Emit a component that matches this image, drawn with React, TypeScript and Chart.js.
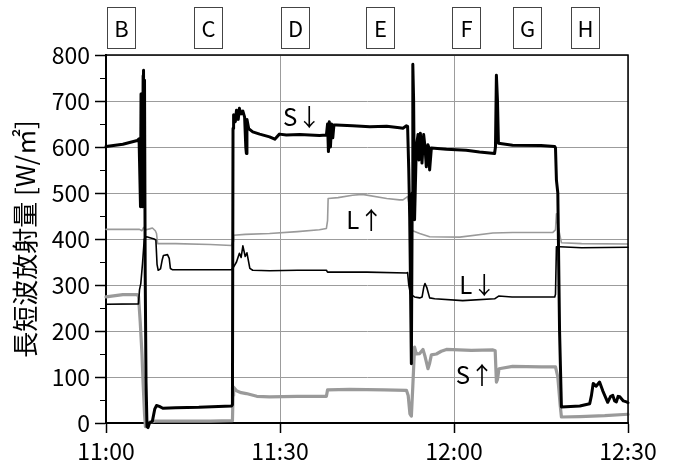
import { useEffect, useRef } from "react";
import { Chart, registerables } from "chart.js";

Chart.register(...registerables);

const FONT = '"Noto Sans CJK JP", "Noto Sans", sans-serif';
const BLACK = "#000000";
const GRAY = "#9a9a9a";
const GRID = "#9c9c9c";

// Time axis: minutes after 11:00
const timeMin = 0;
const timeMax = 90;
const timeStep = 30;

// S↓ : downward shortwave
const sDownTime = [0, 2.9, 5.4, 5.7, 5.95, 6.04, 6.12, 6.21, 6.3, 6.4, 6.47, 6.56, 6.64, 6.76, 6.9, 7.07, 7.25, 7.5, 8.0, 8.4, 8.7, 9.2, 9.8, 12, 16, 21.65, 21.8, 21.9, 22.0, 22.3, 22.5, 22.8, 23.0, 23.3, 23.6, 23.9, 24.1, 24.2, 24.3, 24.6, 25.3, 26.5, 28.2, 29.1, 29.9, 31.1, 33.4, 36.8, 38.0, 38.2, 38.35, 38.5, 38.7, 38.9, 39.1, 39.3, 39.7, 42.5, 45.5, 48.4, 50.6, 51.2, 51.8, 52.0, 52.2, 52.36, 52.5, 52.65, 52.8, 52.9, 53.04, 53.2, 53.5, 53.8, 53.96, 54.08, 54.2, 54.48, 54.77, 55.0, 55.23, 55.5, 55.63, 55.8, 56.1, 58.7, 62.1, 64.4, 67.0, 67.15, 67.31, 67.5, 67.66, 70.1, 75, 77.37, 77.5, 77.66, 77.9, 78.2, 78.52, 81.7, 83.4, 83.7, 84.0, 84.5, 85.1, 85.65, 86.5, 87.0, 87.38, 87.7, 88.0, 88.3, 88.58, 89.2, 89.74, 90];
const sDownValue = [601, 606, 614, 618, 470, 715, 480, 712, 470, 755, 767, 520, 745, 320, 90, -8, -10, 0, 4, 30, 38, 36, 32, 33, 34, 37, 40, 640, 670, 655, 680, 660, 684, 672, 678, 665, 600, 586, 660, 640, 633, 628, 622, 617, 628, 626, 627, 625, 626, 650, 590, 655, 600, 650, 620, 648, 648, 646, 644, 645, 642, 641, 646, 645, 550, 448, 300, 129, 500, 780, 700, 442, 600, 627, 572, 612, 630, 565, 627, 600, 557, 605, 600, 550, 598, 595, 593, 589, 586, 600, 756, 700, 608, 604, 603, 601, 598, 528, 500, 200, 35, 37, 42, 60, 86, 80, 89, 70, 45, 58, 60, 48, 46, 58, 57, 48, 46, 44];

// L↓ : downward longwave
const lDownTime = [0, 5.6, 5.78, 6.0, 6.3, 6.6, 7.0, 8.3, 8.6, 8.8, 9.0, 9.4, 9.7, 9.9, 10.6, 10.9, 11.1, 11.5, 14, 21.65, 21.99, 22.5, 23.0, 23.3, 23.6, 24.0, 24.3, 24.8, 25.3, 28.2, 33, 38.0, 38.2, 45, 51.84, 52.0, 52.2, 52.5, 53.2, 54.08, 54.5, 54.8, 55.0, 55.3, 55.8, 56.67, 61.5, 67.0, 67.7, 70, 77.37, 77.5, 77.66, 78.2, 82, 90];
const lDownValue = [258, 259, 290, 303, 347, 400, 405, 400, 398, 345, 332, 335, 355, 364, 366, 358, 336, 333, 333, 333, 339, 350, 369, 360, 385, 362, 370, 336, 332, 331, 332, 332, 328, 328, 326, 327, 300, 280, 274, 272, 274, 296, 303, 295, 272, 270, 266, 270, 276, 274, 274, 280, 383, 383, 381, 382];

// S↑ : upward (reflected) shortwave
const sUpTime = [0, 2.9, 5.4, 5.61, 5.9, 6.2, 6.4, 6.64, 6.8, 7.1, 7.5, 8.5, 12, 18, 21.8, 21.9, 22.0, 22.5, 23.3, 24.2, 26, 28.2, 33, 38.0, 38.2, 42, 48, 51.8, 52.1, 52.4, 52.65, 52.9, 53.2, 53.5, 54.08, 54.65, 55.0, 55.51, 55.8, 56.1, 56.96, 57.8, 58.7, 63, 66.72, 67.1, 67.31, 67.5, 67.76, 70.1, 75, 77.02, 77.5, 77.9, 78.3, 78.52, 81.7, 86, 90];
const sUpValue = [274, 279, 279, 275, 220, 150, 86, 20, -8, -6, 2, 4, 4, 4, 5, 60, 78, 70, 66, 64, 58, 57, 58, 58, 72, 73, 72, 71, 60, 20, 15, 80, 165, 150, 151, 160, 145, 118, 130, 148, 150, 156, 160, 158, 159, 157, 89, 95, 118, 123, 122, 122, 122, 100, 40, 13, 14, 16, 19];

// L↑ : upward longwave
const lUpTime = [0, 5.78, 6.2, 6.5, 6.9, 7.5, 8.0, 8.5, 8.71, 8.9, 12, 18, 21.65, 21.9, 22.0, 24, 28.2, 33, 36.8, 38.0, 38.2, 38.3, 40, 42.5, 44.2, 48.4, 50.6, 51.2, 52.0, 52.36, 52.6, 52.87, 54.08, 55.8, 61, 66.7, 70.1, 77.0, 77.5, 77.66, 77.9, 78.52, 82, 90];
const lUpValue = [421, 421, 418, 425, 420, 422, 424, 418, 412, 390, 390, 388, 386, 395, 408, 410, 412, 416, 420, 423, 440, 488, 490, 495, 497, 488, 485, 485, 492, 470, 430, 418, 412, 405, 404, 413, 414, 414, 420, 455, 430, 392, 390, 389];

// Curve annotations
const curveNames = ["S↓", "L↑", "L↓", "S↑"];
const curveNameTime = [33.8, 44.6, 64.1, 63.6];
const curveNameValue = [665, 441, 300, 104];

// Boxed section markers above the plot
const sectionNames = ["B", "C", "D", "E", "F", "G", "H"];
const sectionTimes = [2.59, 17.6, 32.6, 47.2, 62.1, 72.6, 82.6];

// Y axis
const yMin = 0;
const yMax = 800;
const yStep = 100;
const yMinorTicks = [50, 150, 250, 350, 450, 550, 650, 750];
const yTitle = "長短波放射量 [W/㎡]";

const toPoints = (times: number[], values: number[]) =>
  times.map((t, i) => ({ x: t, y: values[i] }));

const formatTime = (v: number) => {
  const h = 11 + Math.floor(v / 60);
  const m = Math.round(v % 60);
  return `${h}:${m < 10 ? "0" + m : m}`;
};

const decorations = {
  id: "decorations",
  afterDraw(chart: any) {
    const { ctx, chartArea: a } = chart;
    const x = chart.scales.x;
    const y = chart.scales.y;
    ctx.save();

    // frame on top and right
    ctx.strokeStyle = BLACK;
    ctx.lineWidth = 1.5;
    ctx.beginPath();
    ctx.moveTo(a.left, a.top);
    ctx.lineTo(a.right, a.top);
    ctx.lineTo(a.right, a.bottom);
    ctx.stroke();

    // minor ticks on the value axis
    ctx.lineWidth = 1;
    ctx.beginPath();
    for (const v of yMinorTicks) {
      const py = Math.round(y.getPixelForValue(v)) + 0.5;
      ctx.moveTo(a.left - 6, py);
      ctx.lineTo(a.left, py);
    }
    ctx.stroke();

    // curve names
    ctx.fillStyle = BLACK;
    ctx.font = `24px ${FONT}`;
    ctx.textAlign = "center";
    ctx.textBaseline = "middle";
    curveNames.forEach((n, i) => {
      ctx.fillText(n, x.getPixelForValue(curveNameTime[i]), y.getPixelForValue(curveNameValue[i]));
    });

    // section boxes
    ctx.font = `22px ${FONT}`;
    ctx.lineWidth = 1;
    const bw = 28;
    const top = 7;
    const bh = 41;
    sectionNames.forEach((n, i) => {
      const cx = Math.round(x.getPixelForValue(sectionTimes[i]));
      ctx.fillStyle = "#ffffff";
      ctx.fillRect(cx - bw / 2, top, bw, bh);
      ctx.strokeStyle = "#444444";
      ctx.strokeRect(cx - bw / 2 + 0.5, top + 0.5, bw, bh);
      ctx.fillStyle = BLACK;
      ctx.fillText(n, cx + 0.5, top + bh / 2 + 1);
    });

    ctx.restore();
  },
};

export default function App() {
  const canvasRef = useRef<HTMLCanvasElement | null>(null);

  useEffect(() => {
    const canvas = canvasRef.current;
    if (!canvas) return;
    const line = (label: string, times: number[], values: number[], color: string, width: number) => ({
      label,
      data: toPoints(times, values),
      borderColor: color,
      borderWidth: width,
      borderJoinStyle: "round" as const,
      borderCapStyle: "round" as const,
      pointRadius: 0,
      tension: 0,
      fill: false,
      clip: false as const,
    });

    const chart = new Chart(canvas, {
      type: "line",
      data: {
        datasets: [
          line("S↓", sDownTime, sDownValue, BLACK, 3),
          line("L↓", lDownTime, lDownValue, BLACK, 1.6),
          line("S↑", sUpTime, sUpValue, GRAY, 3.2),
          line("L↑", lUpTime, lUpValue, GRAY, 1.6),
        ],
      },
      options: {
        animation: false,
        responsive: false,
        devicePixelRatio: 1,
        events: [],
        layout: { padding: { left: 0, top: 55, right: 49, bottom: 0 } },
        plugins: {
          legend: { display: false },
          tooltip: { enabled: false },
        },
        scales: {
          x: {
            type: "linear",
            min: timeMin,
            max: timeMax,
            afterBuildTicks: (s: any) => {
              const t = [];
              for (let v = timeMin; v <= timeMax; v += timeStep) t.push({ value: v });
              s.ticks = t;
            },
            ticks: {
              font: { family: FONT, size: 23 },
              color: BLACK,
              padding: 4,
              maxRotation: 0,
              callback: (v: any) => formatTime(Number(v)),
            },
            grid: { color: GRID, lineWidth: 1, tickLength: 10, tickColor: BLACK, tickWidth: 1.5 },
            border: { color: BLACK, width: 2 },
            afterFit: (s: any) => {
              s.height = 45;
            },
          },
          y: {
            type: "linear",
            min: yMin,
            max: yMax,
            ticks: {
              stepSize: yStep,
              font: { family: FONT, size: 23 },
              color: BLACK,
              padding: 5,
            },
            grid: { color: GRID, lineWidth: 1, tickLength: 11, tickColor: BLACK, tickWidth: 1.5 },
            border: { color: BLACK, width: 2 },
            title: {
              display: true,
              text: yTitle,
              font: { family: FONT, size: 26 },
              color: BLACK,
              padding: { top: 10, bottom: 0 },
            },
            afterFit: (s: any) => {
              s.width = 106;
            },
          },
        },
      },
      plugins: [decorations],
    });

    return () => chart.destroy();
  }, []);

  return (
    <div style={{ position: "absolute", left: 0, top: 0, width: 677, height: 468, background: "#ffffff" }}>
      <canvas ref={canvasRef} width={677} height={468} style={{ display: "block" }} />
    </div>
  );
}
